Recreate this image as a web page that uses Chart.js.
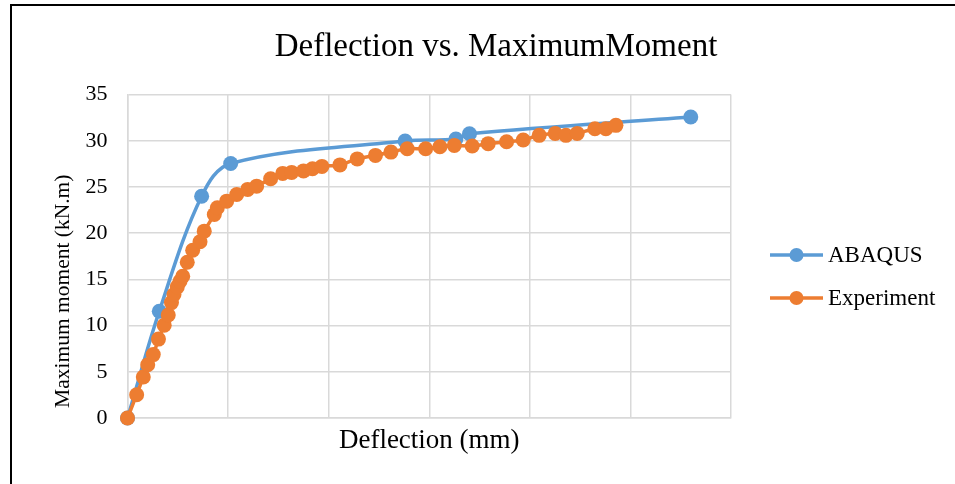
<!DOCTYPE html>
<html>
<head>
<meta charset="utf-8">
<script src="https://cdn.jsdelivr.net/npm/chart.js@4.4.1/dist/chart.umd.min.js"></script>
<style>
  html, body { margin: 0; padding: 0; background: #fff; }
  #wrap { position: relative; width: 955px; height: 484px; overflow: hidden; }
  #frame { position: absolute; left: 10px; top: 4px; width: 960px; height: 500px;
           border-top: 2px solid #000; border-left: 2px solid #000; }
  #myChart { position: absolute; left: 0; top: 0; }
</style>
</head>
<body>
<div id="wrap">
  <div id="frame"></div>
  <canvas id="myChart" width="955" height="484"></canvas>
</div>
<script>
// values: deflection (mm) and moment (kN.m)
const abaqusDefl   = [0, 3.16, 7.37, 10.26, 27.6, 32.65, 34.0, 56.0]
const abaqusMoment = [0, 11.55, 24.0, 27.55, 29.97, 30.2, 30.77, 32.57]

const expDefl = [0, 0.91, 1.57, 2.01, 2.56, 3.08, 3.65, 4.05, 4.37, 4.62, 4.95, 5.22, 5.49,
  5.94, 6.48, 7.21, 7.63, 8.63, 8.93, 9.86, 10.86, 11.95, 12.84, 14.23, 15.43, 16.32,
  17.5, 18.39, 19.33, 21.12, 22.84, 24.65, 26.19, 27.81, 29.64, 31.06, 32.49, 34.27,
  35.86, 37.69, 39.34, 40.93, 42.52, 43.59, 44.71, 46.47, 47.56, 48.56]
const expMoment = [0, 2.52, 4.44, 5.77, 6.86, 8.54, 10.05, 11.14, 12.49, 13.36, 14.19, 14.8, 15.34,
  16.86, 18.16, 19.07, 20.22, 22.03, 22.75, 23.47, 24.19, 24.74, 25.09, 25.89, 26.47, 26.58,
  26.74, 26.98, 27.23, 27.39, 28.04, 28.42, 28.78, 29.14, 29.14, 29.36, 29.5, 29.43,
  29.69, 29.9, 30.08, 30.59, 30.8, 30.59, 30.8, 31.31, 31.31, 31.67]

const yTicks = [0, 5, 10, 15, 20, 25, 30, 35]
const xGrid  = [0, 10, 20, 30, 40, 50, 60]

const serif = '"Liberation Serif", "Times New Roman", serif'

function toPoints(xs, ys) {
  return xs.map((x, i) => ({ x: x, y: ys[i] }))
}

// Excel style legend: short line with a dot, drawn to the right of the plot
const sideLegend = {
  id: 'sideLegend',
  afterDraw(chart) {
    const ctx = chart.ctx
    const x0 = chart.chartArea.right + 39
    const y0 = 255
    chart.data.datasets.forEach((ds, i) => {
      const y = y0 + i * 43
      ctx.save()
      ctx.strokeStyle = ds.borderColor
      ctx.lineWidth = 3.5
      ctx.beginPath()
      ctx.moveTo(x0, y)
      ctx.lineTo(x0 + 53, y)
      ctx.stroke()
      ctx.fillStyle = ds.backgroundColor
      ctx.beginPath()
      ctx.arc(x0 + 26.5, y, 7, 0, Math.PI * 2)
      ctx.fill()
      ctx.fillStyle = '#000'
      ctx.font = '23px ' + serif
      ctx.textBaseline = 'middle'
      ctx.fillText(ds.label, x0 + 58, y + 1)
      ctx.restore()
    })
  }
}

const ctx = document.getElementById('myChart').getContext('2d')
const myChart = new Chart(ctx, {
  type: 'line',
  data: {
    datasets: [
      {
        label: 'ABAQUS',
        data: toPoints(abaqusDefl, abaqusMoment),
        borderColor: '#5B9BD5',
        backgroundColor: '#5B9BD5',
        borderWidth: 3.5,
        pointRadius: 7.5,
        pointBorderWidth: 0,
        tension: 0.35,
        clip: false,
        order: 1
      },
      {
        label: 'Experiment',
        data: toPoints(expDefl, expMoment),
        borderColor: '#ED7D31',
        backgroundColor: '#ED7D31',
        borderWidth: 3.5,
        pointRadius: 7.5,
        pointBorderWidth: 0,
        tension: 0.3,
        clip: false,
        order: 0
      }
    ]
  },
  plugins: [sideLegend],
  options: {
    responsive: false,
    animation: false,
    devicePixelRatio: 1,
    layout: { padding: { left: 37, right: 0, top: 0, bottom: 0 } },
    plugins: {
      legend: { display: false },
      tooltip: { enabled: false },
      title: {
        display: true,
        text: 'Deflection vs. MaximumMoment',
        color: '#000',
        font: { family: serif, size: 33, weight: 'normal' },
        padding: { top: 28, bottom: 27 }
      }
    },
    scales: {
      x: {
        type: 'linear',
        min: 0,
        max: 60,
        afterBuildTicks: s => { s.ticks = xGrid.map(v => ({ value: v })) },
        afterFit: s => { s.height = 66 },
        ticks: { display: false },
        grid: { color: '#d9d9d9', lineWidth: 1.5, drawTicks: false },
        border: { color: '#d9d9d9', width: 1.5 },
        title: {
          display: true,
          text: 'Deflection (mm)',
          color: '#000',
          font: { family: serif, size: 27 },
          padding: { top: 0, bottom: 27 }
        }
      },
      y: {
        min: 0,
        max: 35,
        afterBuildTicks: s => { s.ticks = yTicks.map(v => ({ value: v })) },
        afterFit: s => { s.width = 90.5 },
        ticks: { color: '#000', padding: 20, font: { family: serif, size: 22 } },
        grid: { color: '#d9d9d9', lineWidth: 1.5, drawTicks: false },
        border: { color: '#d9d9d9', width: 1.5 },
        title: {
          display: true,
          // trailing spaces push the centred label down, as in the original
          text: 'Maximum moment (kN.m)' + '\u00a0'.repeat(13),
          color: '#000',
          font: { family: serif, size: 21.5 },
          padding: { top: 13, bottom: 0 }
        }
      },
      // empty box on the right that leaves room for the legend
      right: {
        type: 'linear',
        position: 'right',
        display: true,
        ticks: { display: false },
        grid: { display: false, drawTicks: false },
        border: { display: false },
        afterFit: s => { s.width = 224 }
      }
    }
  }
})
</script>
</body>
</html>
